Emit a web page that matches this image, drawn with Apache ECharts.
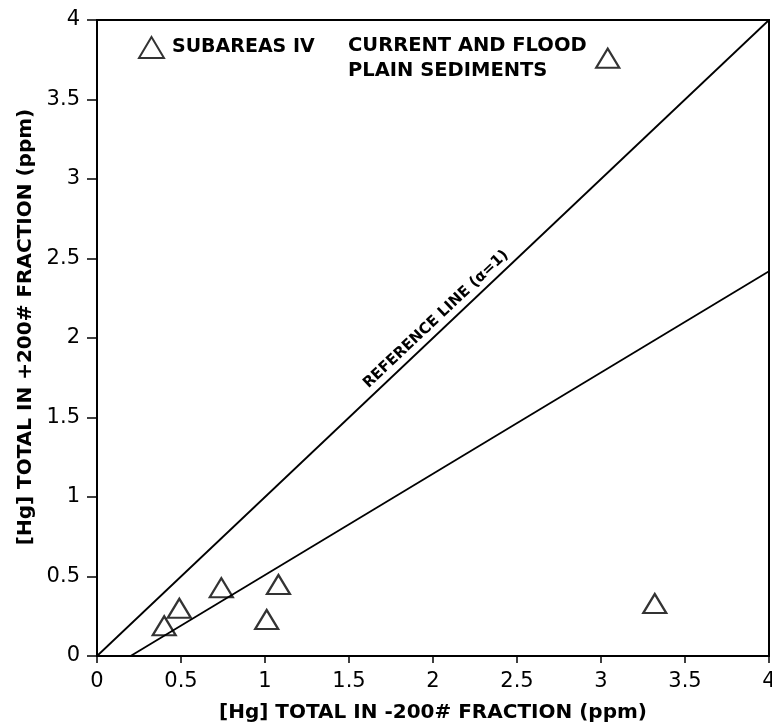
<!DOCTYPE html>
<html>
<head>
<meta charset="utf-8">
<script src="https://cdn.jsdelivr.net/npm/echarts@6/dist/echarts.min.js"></script>
<style>
html,body{margin:0;padding:0;background:#fff;}
#chart{width:772px;height:724px;}
</style>
</head>
<body>
<div id="chart"></div>
<script>
// Data
const xValues = [0.40, 0.49, 0.74, 1.01, 1.08, 3.04, 3.32];
const yValues = [0.19, 0.30, 0.43, 0.23, 0.45, 3.76, 0.33];
const referenceLine = [[0, 0], [4, 4]];
const fitLine = [[0.2, 0], [4, 2.42]];
const seriesName = 'SUBAREAS IV';
const noteLines = ['CURRENT AND FLOOD', 'PLAIN SEDIMENTS'];
const refLabel = 'REFERENCE LINE (\u03B1=1)';
const xTitle = '[Hg] TOTAL IN -200# FRACTION (ppm)';
const yTitle = '[Hg] TOTAL IN +200# FRACTION (ppm)';

const FONT = 'DejaVu Sans';
const chart = echarts.init(document.getElementById('chart'));
const points = xValues.map((x, i) => [x, yValues[i]]);

chart.setOption({
  animation: false,
  backgroundColor: '#fff',
  grid: {left: 97, right: 3, top: 20, bottom: 68, show: true, borderColor: '#000', borderWidth: 2,
    backgroundColor: 'transparent', containLabel: false, outerBoundsMode: 'none'},
  legend: {
    show: true, left: 133, top: 31, itemWidth: 25, itemHeight: 21, itemGap: 0,
    data: [{name: seriesName, icon: 'triangle'}],
    textStyle: {fontFamily: FONT, fontWeight: 'bold', fontSize: 19, color: '#000', padding: [0, 0, 0, 3]},
    selectedMode: false
  },
  title: {
    text: noteLines.join('\n'), left: 343, top: 28,
    textStyle: {fontFamily: FONT, fontWeight: 'bold', fontSize: 19.5, color: '#000', lineHeight: 25}
  },
  xAxis: {
    type: 'value', min: 0, max: 4, interval: 0.5,
    name: xTitle, nameLocation: 'middle', nameGap: 47,
    nameTextStyle: {fontFamily: FONT, fontWeight: 'bold', fontSize: 20, color: '#000'},
    axisLine: {show: true, onZero: false, lineStyle: {color: '#000', width: 2}},
    axisTick: {show: true, length: 7, lineStyle: {color: '#000', width: 1.5}},
    axisLabel: {fontFamily: FONT, fontSize: 21, color: '#000', margin: 15,
      formatter: v => String(v)},
    splitLine: {show: false}
  },
  yAxis: {
    type: 'value', min: 0, max: 4, interval: 0.5,
    name: yTitle, nameLocation: 'middle', nameGap: 55,
    nameTextStyle: {fontFamily: FONT, fontWeight: 'bold', fontSize: 20, color: '#000', padding: [0, 0, 0, 22]},
    axisLine: {show: true, onZero: false, lineStyle: {color: '#000', width: 2}},
    axisTick: {show: true, length: 10, lineStyle: {color: '#000', width: 1.5}},
    axisLabel: {fontFamily: FONT, fontSize: 21, color: '#000', margin: 17,
      formatter: v => String(v)},
    splitLine: {show: false}
  },
  series: [
    {
      name: seriesName, type: 'scatter', data: points,
      symbol: 'triangle', symbolSize: [23, 19],
      itemStyle: {color: 'rgba(255,255,255,0)', borderColor: '#000', borderWidth: 2.2},
      z: 5,
      markLine: {
        silent: true, symbol: 'none',
        lineStyle: {color: '#000', width: 1.8, type: 'solid'},
        label: {show: false},
        data: [
          [{coord: referenceLine[0], label: {show: true, position: 'middle', formatter: refLabel,
              fontFamily: FONT, fontWeight: 'bold', fontSize: 15, color: '#000', distance: 4,
              padding: [0, 0, 0, 30]}},
           {coord: referenceLine[1]}],
          [{coord: fitLine[0]}, {coord: fitLine[1]}]
        ]
      }
    }
  ]
});
</script>
</body>
</html>
